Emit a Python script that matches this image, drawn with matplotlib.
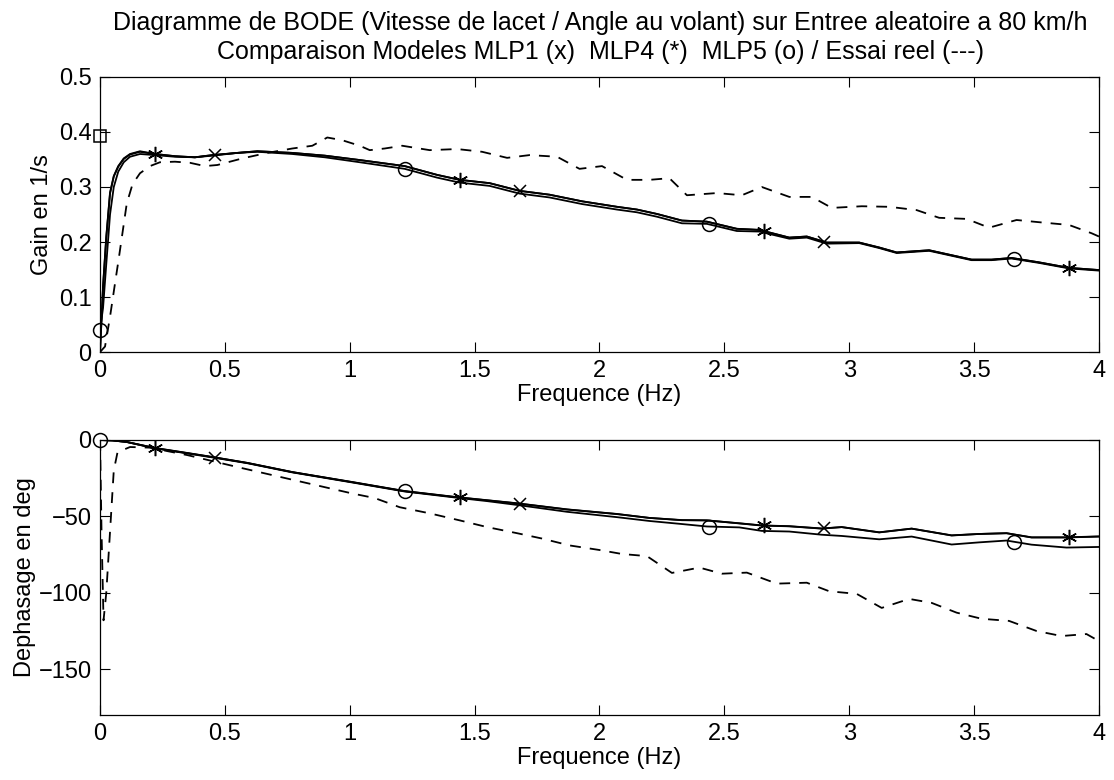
import numpy as np
import matplotlib
matplotlib.use('Agg')
from matplotlib import pyplot as plt

plt.rcParams['font.family'] = ['Liberation Sans', 'DejaVu Sans']

# --- gain, model curves
f_mod = [0, 0.012, 0.025, 0.04, 0.055, 0.073, 0.095, 0.12, 0.16, 0.22,
         0.3, 0.38, 0.45, 0.55, 0.63, 0.77, 0.9, 1.04, 1.22, 1.35,
         1.44, 1.56, 1.68, 1.80, 1.93, 2.07, 2.15, 2.23, 2.33, 2.43,
         2.55, 2.64, 2.76, 2.83, 2.91, 3.04, 3.12, 3.19, 3.32, 3.40,
         3.49, 3.57, 3.65, 3.76, 3.88, 4.0]
gain_mlp1 = [0.0, 0.12, 0.21, 0.29, 0.32, 0.338, 0.352, 0.36, 0.365, 0.36,
             0.356, 0.354, 0.358, 0.362, 0.365, 0.362, 0.357, 0.349, 0.338, 0.322,
             0.313, 0.307, 0.293, 0.286, 0.274, 0.264, 0.259, 0.251, 0.239, 0.237,
             0.224, 0.222, 0.208, 0.21, 0.199, 0.199, 0.19, 0.181, 0.185, 0.177,
             0.168, 0.168, 0.171, 0.163, 0.153, 0.149]
gain_mlp4 = [0.0, 0.118, 0.208, 0.288, 0.319, 0.337, 0.351, 0.359, 0.364, 0.36,
             0.356, 0.354, 0.358, 0.362, 0.365, 0.362, 0.357, 0.349, 0.338, 0.322,
             0.313, 0.307, 0.293, 0.286, 0.274, 0.264, 0.259, 0.251, 0.239, 0.237,
             0.224, 0.222, 0.208, 0.21, 0.199, 0.199, 0.19, 0.181, 0.185, 0.177,
             0.168, 0.168, 0.171, 0.163, 0.153, 0.149]
gain_mlp5 = [0.04, 0.08, 0.16, 0.25, 0.3, 0.328, 0.345, 0.355, 0.36, 0.358,
             0.355, 0.354, 0.357, 0.362, 0.364, 0.36, 0.354, 0.345, 0.333, 0.317,
             0.308, 0.302, 0.288, 0.281, 0.269, 0.259, 0.254, 0.246, 0.234, 0.233,
             0.220, 0.219, 0.206, 0.208, 0.197, 0.198, 0.189, 0.18, 0.184, 0.176,
             0.167, 0.167, 0.170, 0.162, 0.152, 0.148]

# --- gain, real test
f_real_g = [0, 0.02, 0.04, 0.06, 0.075, 0.107, 0.13, 0.16, 0.2, 0.24,
            0.3, 0.36, 0.42, 0.47, 0.57, 0.67, 0.77, 0.85, 0.91, 0.97,
            1.04, 1.08, 1.14, 1.21, 1.32, 1.43, 1.53, 1.63, 1.72, 1.83,
            1.92, 2.01, 2.11, 2.2, 2.28, 2.35, 2.47, 2.57, 2.65, 2.76,
            2.85, 2.93, 3.05, 3.16, 3.27, 3.36, 3.47, 3.56, 3.67, 3.76,
            3.88, 3.97, 4.0]
gain_real = [0, 0.01, 0.064, 0.125, 0.17, 0.27, 0.305, 0.325, 0.338, 0.345,
             0.346, 0.344, 0.338, 0.34, 0.352, 0.362, 0.37, 0.375, 0.39, 0.385,
             0.375, 0.367, 0.37, 0.375, 0.367, 0.369, 0.364, 0.353, 0.358, 0.355,
             0.333, 0.338, 0.313, 0.313, 0.316, 0.285, 0.289, 0.285, 0.3, 0.282,
             0.282, 0.262, 0.265, 0.264, 0.258, 0.244, 0.242, 0.226, 0.24, 0.236,
             0.231, 0.216, 0.21]

# --- phase, model curves
f_mod_p = [0, 0.05, 0.107, 0.22, 0.35, 0.45, 0.59, 0.77, 1.01, 1.22,
           1.43, 1.55, 1.67, 1.87, 2.07, 2.2, 2.33, 2.43, 2.56, 2.65,
           2.76, 2.89, 2.97, 3.12, 3.25, 3.41, 3.52, 3.63, 3.73, 3.87,
           4.0]
phase_mlp1 = [0, -0.3, -1.3, -5.3, -8.6, -11.2, -15, -21, -27.6, -33.5,
              -37.5, -39.5, -41.5, -45.5, -48.5, -51, -52.5, -52.6, -54.6, -56,
              -56.5, -58, -57, -60.5, -58, -62.5, -61.5, -61, -63.8, -63.8,
              -63.2]
phase_mlp4 = [0, -0.3, -1.3, -5.2, -8.5, -11.1, -15, -21, -27.5, -33.4,
              -37.4, -39.4, -41.4, -45.4, -48.4, -51, -52.4, -52.6, -54.5, -55.9,
              -56.4, -57.9, -57, -60.4, -58, -62.4, -61.5, -61, -63.7, -63.7,
              -63.1]
phase_mlp5 = [0, -0.3, -1.3, -5.5, -8.8, -11.4, -15.2, -21.2, -27.8, -33.7,
              -37.8, -40, -42.5, -47, -50.5, -53, -55, -56.6, -57.2, -59.5,
              -59.9, -62, -62.8, -65, -63.2, -68.4, -67, -65.8, -68.5, -70.4,
              -70]

# --- phase, real test
f_real_p = [0, 0.006, 0.014, 0.025, 0.04, 0.055, 0.07, 0.12, 0.2, 0.35,
            0.55, 0.77, 1.01, 1.1, 1.2, 1.32, 1.44, 1.55, 1.67, 1.77,
            1.88, 2.0, 2.09, 2.19, 2.29, 2.4, 2.49, 2.59, 2.71, 2.83,
            2.92, 3.03, 3.13, 3.24, 3.33, 3.43, 3.53, 3.64, 3.75, 3.85,
            3.95, 4.0]
phase_real = [0, -60, -118, -100, -60, -20, -8, -4.6, -5, -9.9,
              -17.7, -26, -35, -38, -44, -48, -52.6, -57, -61, -64.5,
              -69, -72, -74.6, -76, -87, -83.5, -87.5, -86.8, -94, -93.4,
              -99, -100.7, -109.9, -104, -106.6, -113, -117, -118.4, -125, -128.3,
              -127, -131.6]

# marker positions (Hz)
mk_mlp1 = [0.46, 1.68, 2.90]
mk_mlp4 = [0.22, 1.44, 2.66, 3.88]
mk_mlp5 = [0.0, 1.22, 2.44, 3.66]
sq_x = [0.0]
sq_y = [0.393]

title1 = 'Diagramme de BODE (Vitesse de lacet / Angle au volant) sur Entree aleatoire a 80 km/h'
title2 = 'Comparaison Modeles MLP1 (x)  MLP4 (*)  MLP5 (o) / Essai reel (---)'

fs = 17
lw = 1.3
star = (6, 2, 0)

fig = plt.figure(figsize=(11.14, 7.8), dpi=100)
ax1 = fig.add_axes([0.0898, 0.5487, 0.8967, 0.3526])
ax2 = fig.add_axes([0.0898, 0.0833, 0.8967, 0.3526])


def style(ax):
    ax.tick_params(direction='in', length=7, width=0.8, top=True, right=True,
                   labelsize=fs, pad=6)
    for s in ax.spines.values():
        s.set_linewidth(0.9)
    ax.set_xlim(0, 4)
    ax.set_xticks([0, 0.5, 1, 1.5, 2, 2.5, 3, 3.5, 4])
    ax.set_xticklabels(['0', '0.5', '1', '1.5', '2', '2.5', '3', '3.5', '4'])
    ax.set_xlabel('Frequence (Hz)', fontsize=fs, labelpad=1)


# gain
ax1.plot(f_mod, gain_mlp1, 'k-', lw=lw)
ax1.plot(f_mod, gain_mlp4, 'k-', lw=lw)
ax1.plot(f_mod, gain_mlp5, 'k-', lw=lw)
ax1.plot(f_real_g, gain_real, 'k', lw=lw, dashes=(6, 5))
ax1.plot(mk_mlp1, np.interp(mk_mlp1, f_mod, gain_mlp1), 'kx', ms=9, mew=1.1, clip_on=False)
ax1.plot(mk_mlp4, np.interp(mk_mlp4, f_mod, gain_mlp4), 'k', ls='none', marker=star, ms=11, mew=1.1, clip_on=False)
ax1.plot(mk_mlp5, np.interp(mk_mlp5, f_mod, gain_mlp5), 'ko', mfc='none', ms=10, mew=1.1, clip_on=False)
ax1.plot(sq_x, sq_y, 'ks', mfc='none', ms=8, mew=1.1, clip_on=False)
ax1.set_ylim(0, 0.5)
ax1.set_yticks([0, 0.1, 0.2, 0.3, 0.4, 0.5])
ax1.set_yticklabels(['0', '0.1', '0.2', '0.3', '0.4', '0.5'])
ax1.set_ylabel('Gain en 1/s', fontsize=fs, labelpad=4)
style(ax1)

# phase
ax2.plot(f_mod_p, phase_mlp1, 'k-', lw=lw)
ax2.plot(f_mod_p, phase_mlp4, 'k-', lw=lw)
ax2.plot(f_mod_p, phase_mlp5, 'k-', lw=lw)
ax2.plot(f_real_p, phase_real, 'k', lw=lw, dashes=(6, 5))
ax2.plot(mk_mlp1, np.interp(mk_mlp1, f_mod_p, phase_mlp1), 'kx', ms=9, mew=1.1, clip_on=False)
ax2.plot(mk_mlp4, np.interp(mk_mlp4, f_mod_p, phase_mlp4), 'k', ls='none', marker=star, ms=11, mew=1.1, clip_on=False)
ax2.plot(mk_mlp5, np.interp(mk_mlp5, f_mod_p, phase_mlp5), 'ko', mfc='none', ms=10, mew=1.1, clip_on=False)
ax2.set_ylim(-180, 0)
ax2.set_yticks([-150, -100, -50, 0])
ax2.set_yticklabels(['\u2212150', '\u2212100', '\u221250', '0'])
ax2.set_ylabel('Dephasage en deg', fontsize=fs, labelpad=2)
style(ax2)

fig.text(0.5386, 1 - 23 / 780, title1, ha='center', va='center', fontsize=18)
fig.text(0.5386, 1 - 52 / 780, title2, ha='center', va='center', fontsize=18)

fig.savefig('out.png', dpi=100)
